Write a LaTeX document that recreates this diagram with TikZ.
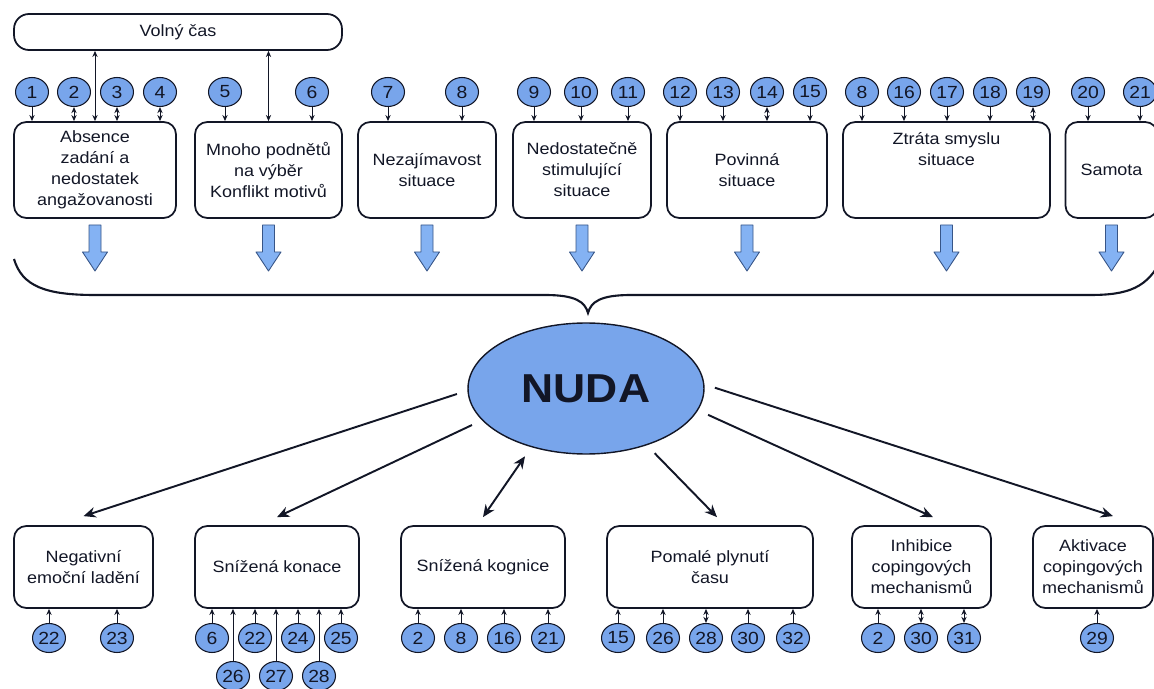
\documentclass[tikz,border=0pt]{standalone}
\usepackage{fontspec}
\setmainfont{Liberation Sans}[FakeStretch=1.1]
\usepackage{tikz}
\usetikzlibrary{arrows.meta, shapes.geometric, positioning, calc}

\definecolor{numblue}{RGB}{120,165,235}
\definecolor{padblue}{RGB}{132,178,243}
\definecolor{rimblue}{RGB}{55,85,135}
\definecolor{inkdark}{RGB}{18,22,38}

\tikzset{
  box/.style={draw=inkdark, line width=1pt, rounded corners=7pt, align=center,
    inner sep=2pt, font=\fontsize{9.3}{12}\selectfont, text=inkdark},
  topbox/.style={box, minimum height=1.92cm},
  lowbox/.style={box, minimum height=1.64cm},
  boxtext/.style={align=center, font=\fontsize{9.3}{12}\selectfont, text=inkdark},
  num/.style={ellipse, draw=inkdark, fill=numblue, line width=0.6pt,
    minimum width=0.66cm, minimum height=0.58cm, inner sep=0pt,
    font=\fontsize{10}{12}\selectfont, text=inkdark},
  thinarrow/.style={line width=0.55pt, draw=inkdark, >={Stealth[length=3.5pt,width=3pt]}},
  thickarrow/.style={line width=1.1pt, draw=inkdark, >={Stealth[length=7pt,width=6pt]},
    shorten <=0.22cm},
  pad/.style={draw=rimblue, fill=padblue, line width=0.5pt, line join=round},
}

\begin{document}
\begin{tikzpicture}[x=0.02cm, y=-0.02cm]
  \path[use as bounding box, clip] (0,0) rectangle (1154,689);

  % free time bar
  \node[box, rounded corners=8.5pt, minimum width=6.56cm, minimum height=0.72cm]
      (volny) at (178,32) {Volný čas};

  % causes
  \node[topbox, minimum width=3.24cm] (b1) at (95,170)
      {Absence\\zadání a\\nedostatek\\angažovanosti};
  \node[topbox, minimum width=2.94cm] (b2) at (268.5,170)
      {Mnoho podnětů\\na výběr\\Konflikt motivů};
  \node[topbox, minimum width=2.76cm] (b3) at (427,170) {Nezajímavost\\situace};
  \node[topbox, minimum width=2.76cm] (b4) at (582,170)
      {Nedostatečně\\stimulující\\situace};
  \node[topbox, minimum width=3.2cm]  (b5) at (747,170) {Povinná\\situace};
  \node[topbox, minimum width=4.14cm] (b6) at (946.5,170) {};
  \node[boxtext] (b6text) at ([yshift=0.42cm]b6.center) {Ztráta smyslu\\situace};
  \node[topbox, minimum width=1.84cm] (b7) at (1111.5,170) {Samota};

  \draw[thinarrow, <->] (b1.north) -- (b1.north |- volny.south);
  \draw[thinarrow, <->] (b2.north) -- (b2.north |- volny.south);

  \foreach \ax/\lab/\bx/\tp [count=\i] in {
      32/1/b1/->, 74/2/b1/<->, 117/3/b1/<->, 160/4/b1/<->,
      225/5/b2/->, 312/6/b2/->, 388/7/b3/->, 462/8/b3/->,
      534/9/b4/->, 581/10/b4/->, 628/11/b4/->,
      680/12/b5/->, 723/13/b5/->, 767/14/b5/<->, 810/15/b5/->,
      862/8/b6/->, 904/16/b6/->, 947/17/b6/->, 990/18/b6/->, 1033/19/b6/<->,
      1088/20/b7/->, 1140/21/b7/->} {
    \node[num] (top\i) at (\ax,92) {\lab};
    \draw[thinarrow, \tp] (top\i.south) -- (top\i.south |- \bx.north);
  }

  % down arrows into the brace
  \foreach \bx in {b1,b2,b3,b4,b5,b6,b7}
    \draw[pad] (\bx.south |- 0,225) ++(-6,0) -- ++(0,27) -- ++(-6.5,0)
      -- ++(12.5,19) -- ++(12.5,-19) -- ++(-6.5,0) -- ++(0,-27) -- cycle;

  \draw[line width=1.2pt, draw=inkdark]
    (14,259) .. controls (22,286) and (45,295) .. (95,295) -- (545,295)
    .. controls (576,295) and (585,302) .. (588,313)
    .. controls (591,302) and (600,295) .. (631,295) -- (1090,295)
    .. controls (1128,295) and (1148,288) .. (1162,258);

  \node[ellipse, draw=inkdark, fill=numblue, line width=0.8pt,
      minimum width=4.72cm, minimum height=2.62cm, inner sep=0pt,
      font=\fontsize{23}{27}\selectfont\bfseries, text=inkdark]
      (nuda) at (586,388.5) {NUDA};

  % effects
  \node[lowbox, minimum width=2.78cm] (n1) at (83.5,567) {Negativní\\emoční ladění};
  \node[lowbox, minimum width=3.28cm] (n2) at (277,567) {Snížená konace};
  \node[lowbox, minimum width=3.28cm] (n3) at (483,567) {Snížená kognice};
  \node[lowbox, minimum width=4.12cm] (n4) at (710,567) {Pomalé plynutí\\času};
  \node[lowbox, minimum width=2.78cm] (n5) at (921.5,567)
      {Inhibice\\copingových\\mechanismů};
  \node[lowbox, minimum width=2.4cm]  (n6) at (1093,567)
      {Aktivace\\copingových\\mechanismů};

  \draw[thickarrow, ->]  (nuda.181) -- ([yshift=0.18cm]n1.north);
  \draw[thickarrow, ->]  (nuda.197) -- ([yshift=0.16cm]n2.north);
  \draw[thickarrow, <->] (nuda.227) -- ([yshift=0.16cm]n3.north);
  \draw[thickarrow, ->]  (nuda.317) -- ([xshift=0.14cm,yshift=0.16cm]n4.north);
  \draw[thickarrow, ->]  (nuda.349) -- ([xshift=0.23cm,yshift=0.16cm]n5.north);
  \draw[thickarrow, ->]  (nuda.2)   -- ([xshift=0.4cm,yshift=0.18cm]n6.north);

  \foreach \ax/\lab/\bx/\tp/\ay [count=\i] in {
      49/22/n1/->/638, 117/23/n1/->/638,
      212/6/n2/->/638, 233/26/n2/->/676, 255/22/n2/->/638, 276/27/n2/->/676,
      298/24/n2/->/638, 319/28/n2/->/676, 341/25/n2/->/638,
      418/2/n3/->/638, 461/8/n3/->/638, 504/16/n3/->/638, 548/21/n3/->/638,
      618/15/n4/->/638, 663/26/n4/->/638, 706/28/n4/<->/638, 748/30/n4/->/638,
      793/32/n4/->/638,
      878/2/n5/->/638, 921/30/n5/<->/638, 964/31/n5/<->/638,
      1097/29/n6/->/638} {
    \node[num] (low\i) at (\ax,\ay) {\lab};
    \draw[thinarrow, \tp] (low\i.north) -- (low\i.north |- \bx.south);
  }
\end{tikzpicture}
\end{document}
